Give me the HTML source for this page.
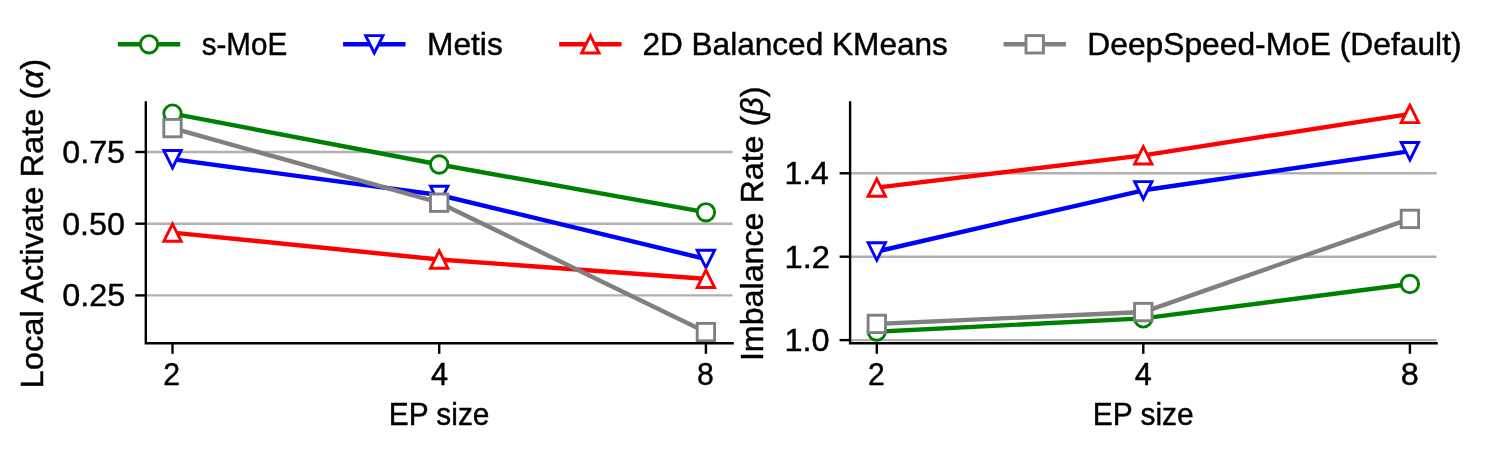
<!DOCTYPE html>
<html><head><meta charset="utf-8"><style>
html,body{margin:0;padding:0;background:#fff;width:1495px;height:452px;overflow:hidden;font-family:"Liberation Sans",sans-serif;}
svg{display:block;}
</style></head><body>
<svg width="1495" height="452" viewBox="0 0 1495 452">
<rect width="1495" height="452" fill="#fff"/>
<line x1="145.8" y1="152.0" x2="732.6" y2="152.0" stroke="#b0b0b0" stroke-width="2.4"/>
<line x1="145.8" y1="223.7" x2="732.6" y2="223.7" stroke="#b0b0b0" stroke-width="2.4"/>
<line x1="145.8" y1="295.4" x2="732.6" y2="295.4" stroke="#b0b0b0" stroke-width="2.4"/>
<clipPath id="cl"><rect x="145.8" y="102.4" width="586.80" height="240.90"/></clipPath>
<g clip-path="url(#cl)">
<path d="M172.5,113.6 L439.2,164.5 L705.9,212.3" fill="none" stroke="#008000" stroke-width="4.4" stroke-linecap="square" stroke-linejoin="round"/>
<circle cx="172.5" cy="113.6" r="8.7" fill="#fff" stroke="#008000" stroke-width="2.9"/>
<circle cx="439.2" cy="164.5" r="8.7" fill="#fff" stroke="#008000" stroke-width="2.9"/>
<circle cx="705.9" cy="212.3" r="8.7" fill="#fff" stroke="#008000" stroke-width="2.9"/>
<path d="M172.5,159.2 L439.2,195.0 L705.9,259.0" fill="none" stroke="#0000ff" stroke-width="4.4" stroke-linecap="square" stroke-linejoin="round"/>
<path d="M172.5,167.90 L163.80,150.50 L181.20,150.50 Z" fill="#fff" stroke="#0000ff" stroke-width="2.9"/>
<path d="M439.2,203.70 L430.50,186.30 L447.90,186.30 Z" fill="#fff" stroke="#0000ff" stroke-width="2.9"/>
<path d="M705.9,267.70 L697.20,250.30 L714.60,250.30 Z" fill="#fff" stroke="#0000ff" stroke-width="2.9"/>
<path d="M172.5,232.6 L439.2,259.5 L705.9,278.8" fill="none" stroke="#ff0000" stroke-width="4.4" stroke-linecap="square" stroke-linejoin="round"/>
<path d="M172.5,223.90 L163.80,241.30 L181.20,241.30 Z" fill="#fff" stroke="#ff0000" stroke-width="2.9"/>
<path d="M439.2,250.80 L430.50,268.20 L447.90,268.20 Z" fill="#fff" stroke="#ff0000" stroke-width="2.9"/>
<path d="M705.9,270.10 L697.20,287.50 L714.60,287.50 Z" fill="#fff" stroke="#ff0000" stroke-width="2.9"/>
<path d="M172.5,128.1 L439.2,202.7 L705.9,332.1" fill="none" stroke="#808080" stroke-width="4.4" stroke-linecap="square" stroke-linejoin="round"/>
<rect x="163.80" y="119.40" width="17.40" height="17.40" fill="#fff" stroke="#808080" stroke-width="2.9"/>
<rect x="430.50" y="194.00" width="17.40" height="17.40" fill="#fff" stroke="#808080" stroke-width="2.9"/>
<rect x="697.20" y="323.40" width="17.40" height="17.40" fill="#fff" stroke="#808080" stroke-width="2.9"/>
</g>
<path d="M145.8,102.4 L145.8,343.3 L732.6,343.3" fill="none" stroke="#000" stroke-width="2.4" stroke-linecap="square" stroke-linejoin="miter"/>
<line x1="172.5" y1="343.3" x2="172.5" y2="353.8" stroke="#000" stroke-width="2.4"/>
<line x1="439.2" y1="343.3" x2="439.2" y2="353.8" stroke="#000" stroke-width="2.4"/>
<line x1="705.9" y1="343.3" x2="705.9" y2="353.8" stroke="#000" stroke-width="2.4"/>
<line x1="135.3" y1="152.0" x2="145.8" y2="152.0" stroke="#000" stroke-width="2.4"/>
<line x1="135.3" y1="223.7" x2="145.8" y2="223.7" stroke="#000" stroke-width="2.4"/>
<line x1="135.3" y1="295.4" x2="145.8" y2="295.4" stroke="#000" stroke-width="2.4"/>
<line x1="850.1" y1="173.3" x2="1436.6" y2="173.3" stroke="#b0b0b0" stroke-width="2.4"/>
<line x1="850.1" y1="256.7" x2="1436.6" y2="256.7" stroke="#b0b0b0" stroke-width="2.4"/>
<line x1="850.1" y1="340.1" x2="1436.6" y2="340.1" stroke="#b0b0b0" stroke-width="2.4"/>
<clipPath id="cr"><rect x="850.1" y="102.4" width="586.50" height="240.90"/></clipPath>
<g clip-path="url(#cr)">
<path d="M876.8,331.6 L1143.3,318.4 L1409.9,284.0" fill="none" stroke="#008000" stroke-width="4.4" stroke-linecap="square" stroke-linejoin="round"/>
<circle cx="876.8" cy="331.6" r="8.7" fill="#fff" stroke="#008000" stroke-width="2.9"/>
<circle cx="1143.3" cy="318.4" r="8.7" fill="#fff" stroke="#008000" stroke-width="2.9"/>
<circle cx="1409.9" cy="284.0" r="8.7" fill="#fff" stroke="#008000" stroke-width="2.9"/>
<path d="M876.8,251.5 L1143.3,190.3 L1409.9,151.2" fill="none" stroke="#0000ff" stroke-width="4.4" stroke-linecap="square" stroke-linejoin="round"/>
<path d="M876.8,260.20 L868.10,242.80 L885.50,242.80 Z" fill="#fff" stroke="#0000ff" stroke-width="2.9"/>
<path d="M1143.3,199.00 L1134.60,181.60 L1152.00,181.60 Z" fill="#fff" stroke="#0000ff" stroke-width="2.9"/>
<path d="M1409.9,159.90 L1401.20,142.50 L1418.60,142.50 Z" fill="#fff" stroke="#0000ff" stroke-width="2.9"/>
<path d="M876.8,187.6 L1143.3,155.35 L1409.9,113.9" fill="none" stroke="#ff0000" stroke-width="4.4" stroke-linecap="square" stroke-linejoin="round"/>
<path d="M876.8,178.90 L868.10,196.30 L885.50,196.30 Z" fill="#fff" stroke="#ff0000" stroke-width="2.9"/>
<path d="M1143.3,146.65 L1134.60,164.05 L1152.00,164.05 Z" fill="#fff" stroke="#ff0000" stroke-width="2.9"/>
<path d="M1409.9,105.20 L1401.20,122.60 L1418.60,122.60 Z" fill="#fff" stroke="#ff0000" stroke-width="2.9"/>
<path d="M876.8,323.9 L1143.3,312.05 L1409.9,218.9" fill="none" stroke="#808080" stroke-width="4.4" stroke-linecap="square" stroke-linejoin="round"/>
<rect x="868.10" y="315.20" width="17.40" height="17.40" fill="#fff" stroke="#808080" stroke-width="2.9"/>
<rect x="1134.60" y="303.35" width="17.40" height="17.40" fill="#fff" stroke="#808080" stroke-width="2.9"/>
<rect x="1401.20" y="210.20" width="17.40" height="17.40" fill="#fff" stroke="#808080" stroke-width="2.9"/>
</g>
<path d="M850.1,102.4 L850.1,343.3 L1436.6,343.3" fill="none" stroke="#000" stroke-width="2.4" stroke-linecap="square" stroke-linejoin="miter"/>
<line x1="876.8" y1="343.3" x2="876.8" y2="353.8" stroke="#000" stroke-width="2.4"/>
<line x1="1143.3" y1="343.3" x2="1143.3" y2="353.8" stroke="#000" stroke-width="2.4"/>
<line x1="1409.9" y1="343.3" x2="1409.9" y2="353.8" stroke="#000" stroke-width="2.4"/>
<line x1="839.6" y1="173.3" x2="850.1" y2="173.3" stroke="#000" stroke-width="2.4"/>
<line x1="839.6" y1="256.7" x2="850.1" y2="256.7" stroke="#000" stroke-width="2.4"/>
<line x1="839.6" y1="340.1" x2="850.1" y2="340.1" stroke="#000" stroke-width="2.4"/>
<line x1="117.85" y1="44.3" x2="180.25" y2="44.3" stroke="#008000" stroke-width="4.4"/>
<circle cx="149.05" cy="44.3" r="8.7" fill="#fff" stroke="#008000" stroke-width="2.9"/>
<line x1="343.10" y1="44.3" x2="405.50" y2="44.3" stroke="#0000ff" stroke-width="4.4"/>
<path d="M374.3,53.00 L365.60,35.60 L383.00,35.60 Z" fill="#fff" stroke="#0000ff" stroke-width="2.9"/>
<line x1="559.15" y1="44.3" x2="621.55" y2="44.3" stroke="#ff0000" stroke-width="4.4"/>
<path d="M590.35,35.60 L581.65,53.00 L599.05,53.00 Z" fill="#fff" stroke="#ff0000" stroke-width="2.9"/>
<line x1="1003.50" y1="44.3" x2="1065.90" y2="44.3" stroke="#808080" stroke-width="4.4"/>
<rect x="1026.00" y="35.60" width="17.40" height="17.40" fill="#fff" stroke="#808080" stroke-width="2.9"/>
<g style="will-change:transform" font-family="Liberation Sans, sans-serif" font-size="31.5px" fill="#000" stroke="#000" stroke-width="0.45">
<text id="leg0" x="201.70" y="55.00" textLength="85.46" lengthAdjust="spacingAndGlyphs">s-MoE</text>
<text id="leg1" x="427.00" y="55.00" textLength="75.75" lengthAdjust="spacingAndGlyphs">Metis</text>
<text id="leg2" x="642.40" y="55.00" textLength="305.50" lengthAdjust="spacingAndGlyphs">2D Balanced KMeans</text>
<text id="leg3" x="1087.30" y="55.00" textLength="374.24" lengthAdjust="spacingAndGlyphs">DeepSpeed-MoE (Default)</text>
<text id="yt0" x="62.20" y="162.90" textLength="62.88" lengthAdjust="spacingAndGlyphs">0.75</text>
<text id="yt1" x="62.20" y="234.60" textLength="62.67" lengthAdjust="spacingAndGlyphs">0.50</text>
<text id="yt2" x="62.20" y="306.30" textLength="63.04" lengthAdjust="spacingAndGlyphs">0.25</text>
<text id="yr0" x="784.50" y="184.40" textLength="44.29" lengthAdjust="spacingAndGlyphs">1.4</text>
<text id="yr1" x="784.50" y="267.80" textLength="45.42" lengthAdjust="spacingAndGlyphs">1.2</text>
<text id="yr2" x="784.50" y="351.20" textLength="45.17" lengthAdjust="spacingAndGlyphs">1.0</text>
<text id="xl0" x="163.30" y="385.30" textLength="16.83" lengthAdjust="spacingAndGlyphs">2</text>
<text id="xl1" x="431.00" y="385.30" textLength="17.08" lengthAdjust="spacingAndGlyphs">4</text>
<text id="xl2" x="697.10" y="385.30" textLength="16.79" lengthAdjust="spacingAndGlyphs">8</text>
<text id="xr0" x="868.00" y="385.30" textLength="16.74" lengthAdjust="spacingAndGlyphs">2</text>
<text id="xr1" x="1134.70" y="385.30" textLength="17.02" lengthAdjust="spacingAndGlyphs">4</text>
<text id="xr2" x="1400.80" y="385.30" textLength="17.98" lengthAdjust="spacingAndGlyphs">8</text>
<text id="epl" x="388.80" y="424.90" textLength="100.62" lengthAdjust="spacingAndGlyphs">EP size</text>
<text id="epr" x="1092.80" y="424.90" textLength="100.83" lengthAdjust="spacingAndGlyphs">EP size</text>
<text id="yl1" transform="translate(42.90,388.50) rotate(-90)" textLength="329.55" lengthAdjust="spacingAndGlyphs">Local Activate Rate (<tspan font-style="italic">α</tspan>)</text>
<text id="yl2" transform="translate(762.50,361.10) rotate(-90)" textLength="274.48" lengthAdjust="spacingAndGlyphs">Imbalance Rate (<tspan font-style="italic">β</tspan>)</text>
</g>
</svg>
</body></html>
